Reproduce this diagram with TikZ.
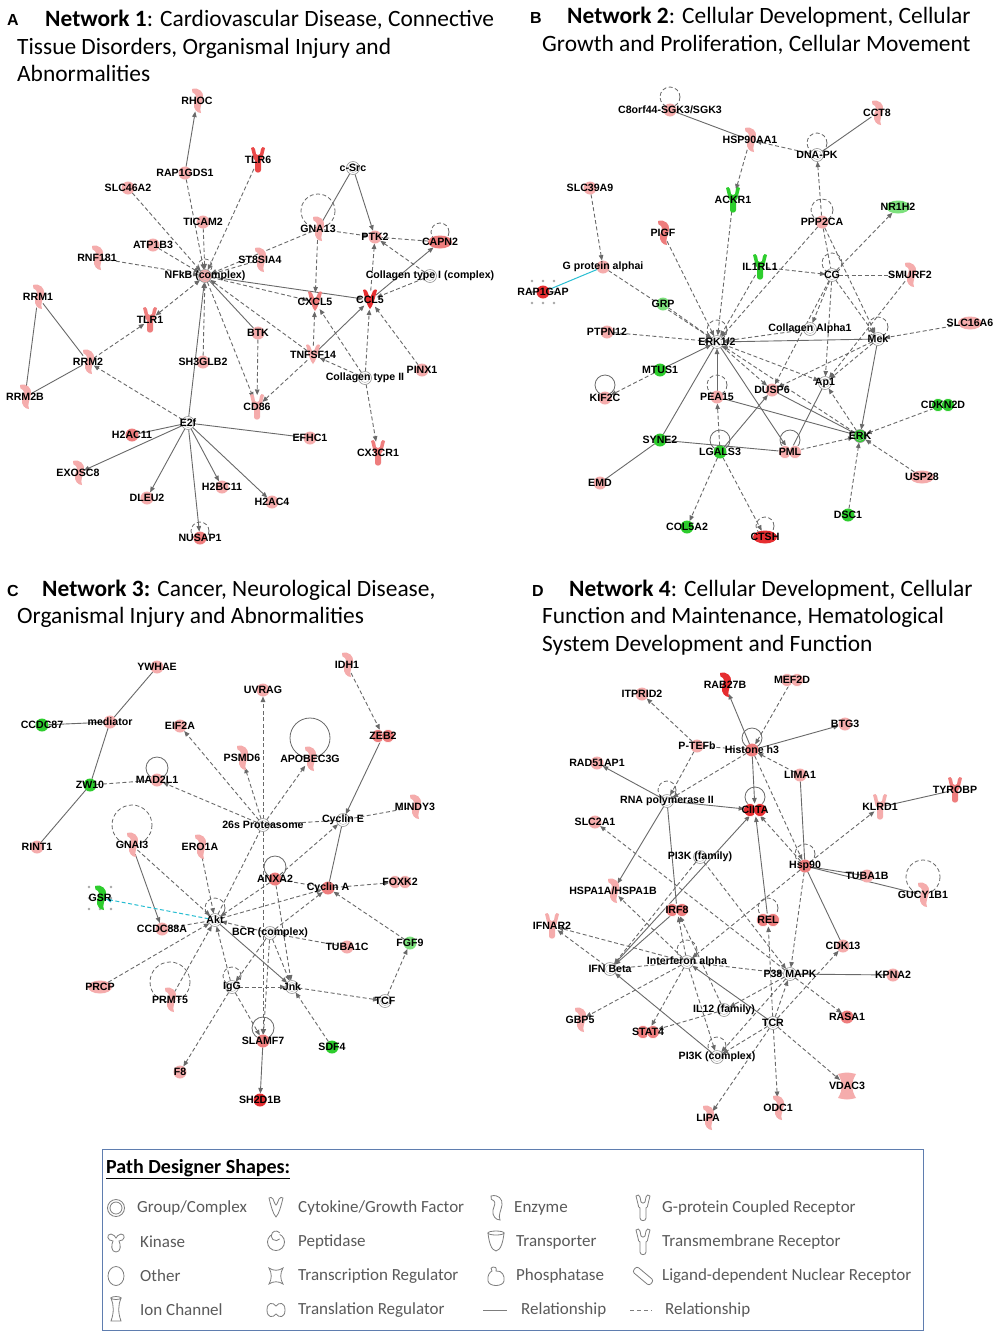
\documentclass[tikz,border=0pt]{standalone}
\usepackage{fontspec}
\setmainfont{Carlito}
\newfontfamily\lblf{Liberation Sans}
\usetikzlibrary{arrows.meta,shapes.geometric}
\definecolor{pk}{RGB}{245,172,172}
\definecolor{pk2}{RGB}{238,125,125}
\definecolor{rd}{RGB}{230,45,48}
\definecolor{rdk}{RGB}{234,72,72}
\definecolor{gr}{RGB}{45,205,45}
\definecolor{lgr}{RGB}{125,225,125}
\definecolor{wh}{RGB}{255,255,255}
\definecolor{edgec}{RGB}{105,105,105}
\definecolor{cplxc}{RGB}{150,150,150}
\definecolor{cyanc}{RGB}{40,190,210}
\definecolor{legc}{RGB}{125,125,125}
\definecolor{legt}{RGB}{90,90,90}
\definecolor{boxc}{RGB}{95,125,175}
\pgfdeclarelayer{bg}
\pgfdeclarelayer{edges}
\pgfsetlayers{bg,edges,main}
\tikzset{
 pics/oth/.style={code={\path[#1] (0,0) circle (6.5);}},
 pics/cplx/.style={code={\path[#1,draw=cplxc,line width=0.6pt] (0,0) circle (6.5);
   \draw[cplxc!70,line width=0.4pt] (0,0) circle (4.6);}},
 pics/enz/.style={code={\path[#1] (-5,-12) .. controls (2,-14) and (7,-9) .. (6,-3)
   .. controls (5,3) and (2,7) .. (4,12) .. controls (0,12) and (-4,8) .. (-3,2)
   .. controls (-2,-2) and (0,-5) .. (-2,-7) .. controls (-4,-8) and (-6,-9) .. (-5,-12) -- cycle;}},
 pics/rec/.style={code={\path[#1] (-7,-12) .. controls (-4.5,-13.5) .. (-3,-11) -- (-2,-6)
   .. controls (0,-4.5) .. (2,-6) -- (3,-11) .. controls (4.5,-13.5) .. (7,-12)
   -- (5,-4) .. controls (4.5,-1) .. (3,0) -- (3,10) .. controls (3,13.5) and (-3,13.5) .. (-3,10)
   -- (-3,0) .. controls (-4.5,-1) .. (-5,-4) -- cycle;}},
 pics/tr/.style={code={\path[#1,draw=white,line width=0.6pt] (-5,0) circle (6.5);
   \path[#1,draw=white,line width=0.6pt] (5,0) circle (6.5);}},
 pics/pep/.style={code={\path[#1] (0,0) ellipse (12 and 6.5);}},
 pics/cyt/.style={code={\path[#1] (-7,-10) .. controls (-5,-11) .. (-3,-9) .. controls (-1,-4) .. (0,-3)
   .. controls (1,-4) .. (3,-9) .. controls (5,-11) .. (7,-10) .. controls (5,-2) and (3,6) .. (0,9)
   .. controls (-3,6) and (-5,-2) .. (-7,-10) -- cycle;}},
 pics/ion/.style={code={\path[#1] (-9,-12) .. controls (0,-14) .. (9,-12) .. controls (4,-4) and (4,4) .. (9,12)
   .. controls (0,14) .. (-9,12) .. controls (-4,4) and (-4,-4) .. (-9,-12) -- cycle;}},
 anch/.style={inner sep=0pt,outer sep=0pt},
 aoth/.style={circle,minimum size=13pt},
 acplx/.style={circle,minimum size=13pt},
 aenz/.style={ellipse,minimum width=12pt,minimum height=22pt},
 arec/.style={ellipse,minimum width=12pt,minimum height=24pt},
 atr/.style={ellipse,minimum width=22pt,minimum height=13pt},
 apep/.style={ellipse,minimum width=24pt,minimum height=13pt},
 acyt/.style={ellipse,minimum width=14pt,minimum height=19pt},
 aion/.style={ellipse,minimum width=16pt,minimum height=26pt},
 lab/.style={font={\lblf\bfseries\fontsize{10.6}{12}\selectfont},text=black,inner sep=0pt},
 es/.style={draw=edgec,line width=0.9pt},
 esa/.style={es,-{Triangle[length=5.5pt,width=4.5pt]}},
 ed/.style={es,dash pattern=on 4pt off 2.5pt},
 eda/.style={ed,-{Triangle[length=5.5pt,width=4.5pt]}},
 edb/.style={ed,{Triangle[length=5.5pt,width=4.5pt]}-{Triangle[length=5.5pt,width=4.5pt]}},
 lps/.style={draw=edgec,line width=0.8pt},
 lpd/.style={lps,dash pattern=on 4pt off 2.5pt},
 cy/.style={draw=cyanc,line width=1pt},
 ttl/.style={font=\fontsize{23.4}{27}\selectfont,inner sep=0pt,anchor=base west},
 pl/.style={font={\lblf\bfseries\fontsize{16}{18}\selectfont},inner sep=0pt,anchor=base west},
 legi/.style={draw=legc,line width=0.8pt,fill=white},
 legtx/.style={font=\fontsize{17}{19}\selectfont,text=legt,inner sep=0pt,anchor=west},
}
\newcommand\GN[6]{\pic at (#2,#3) {#4={fill=#5}};\node[anch,a#4,label={[lab]center:#6}] (#1) at (#2,#3) {};}
\newcommand\LP[4]{\draw[#4] (#1) ++(0,-#2) circle (#3);}
\begin{document}
\begin{tikzpicture}[x=1pt,y=-1pt]
\begin{pgfonlayer}{bg}
\fill[white] (0,0) rectangle (1001,1339);
\end{pgfonlayer}
\useasboundingbox (0,0) rectangle (1001,1339);
% ---------------- titles
\node[pl] (la) at (7,25) {A};
\node[ttl] (ta1) at (45,26) {\textbf{Network 1}: Cardiovascular Disease, Connective};
\node[ttl] (ta2) at (17,54) {Tissue Disorders, Organismal Injury and};
\node[ttl] (ta3) at (17,81) {Abnormalities};
\node[pl] (lb) at (530,23) {B};
\node[ttl] (tb1) at (567,23) {\textbf{Network 2}: Cellular Development, Cellular};
\node[ttl] (tb2) at (542,51) {Growth and Proliferation, Cellular Movement};
\node[pl] (lc) at (7,596) {C};
\node[ttl] (tc1) at (42,596) {\textbf{Network 3:} Cancer, Neurological Disease,};
\node[ttl] (tc2) at (17,623) {Organismal Injury and Abnormalities};
\node[pl] (ld) at (532,596) {D};
\node[ttl] (td1) at (569,596) {\textbf{Network 4}: Cellular Development, Cellular};
\node[ttl] (td2) at (542,623) {Function and Maintenance, Hematological};
\node[ttl] (td3) at (542,651) {System Development and Function};
% ---------------- Network 1
\GN{rhoc}{197}{101}{enz}{pk}{RHOC}
\GN{tlr6}{258}{160}{rec}{rdk}{TLR6}
\GN{rap1gds1}{185}{173}{oth}{pk}{RAP1GDS1}
\GN{slc46a2}{128}{188}{oth}{pk}{SLC46A2}
\GN{ticam2}{203}{222}{oth}{pk}{TICAM2}
\GN{atp1b3}{153}{245}{oth}{pk}{ATP1B3}
\GN{rnf181}{97}{258}{enz}{pk}{RNF181}
\GN{st8sia4}{260}{260}{enz}{pk}{ST8SIA4}
\GN{nfkb}{205}{276}{cplx}{pk}{NFkB (complex)}
\GN{csrc}{353}{168}{cplx}{wh}{c-Src}
\GN{gna13}{318}{229}{enz}{pk}{GNA13}
\GN{ptk2}{375}{237}{oth}{pk}{PTK2}
\GN{capn2}{440}{242}{pep}{pk2}{CAPN2}
\GN{col1}{430}{276}{cplx}{wh}{Collagen type I (complex)}
\GN{rrm1}{38}{297}{enz}{pk}{RRM1}
\GN{tlr1}{150}{320}{rec}{pk2}{TLR1}
\GN{rrm2}{88}{362}{enz}{pk}{RRM2}
\GN{rrm2b}{25}{397}{enz}{pk}{RRM2B}
\GN{sh3glb2}{203}{362}{oth}{pk}{SH3GLB2}
\GN{btk}{258}{333}{oth}{pk}{BTK}
\GN{cd86}{257}{407}{rec}{pk}{CD86}
\GN{cxcl5}{315}{302}{cyt}{pk2}{CXCL5}
\GN{ccl5}{370}{300}{cyt}{rd}{CCL5}
\GN{tnfsf14}{313}{355}{cyt}{pk}{TNFSF14}
\GN{col2}{365}{378}{cplx}{wh}{Collagen type II}
\GN{pinx1}{422}{370}{oth}{pk}{PINX1}
\GN{cx3cr1}{378}{453}{rec}{pk2}{CX3CR1}
\GN{e2f}{188}{423}{cplx}{wh}{E2f}
\GN{h2ac11}{132}{435}{oth}{pk2}{H2AC11}
\GN{efhc1}{310}{438}{oth}{pk}{EFHC1}
\GN{exosc8}{78}{473}{enz}{pk}{EXOSC8}
\GN{dleu2}{147}{498}{oth}{pk}{DLEU2}
\GN{h2bc11}{222}{487}{oth}{pk}{H2BC11}
\GN{h2ac4}{272}{502}{oth}{pk}{H2AC4}
\GN{nusap1}{200}{538}{oth}{pk2}{NUSAP1}
% ---------------- Network 2
\foreach \dx/\dy in {-11/-11,0/-11,11/-11,-11/0,11/0,-11/11,0/11,11/11}
  \fill[gray!70] (543+\dx,292+\dy) circle (1.3);
\GN{c8orf}{670}{110}{oth}{pk}{C8orf44-SGK3/SGK3}
\GN{hsp90aa1}{750}{140}{enz}{pk}{HSP90AA1}
\GN{cct8}{877}{113}{enz}{pk}{CCT8}
\GN{dnapk}{817}{155}{cplx}{wh}{DNA-PK}
\GN{slc39a9}{590}{188}{oth}{pk}{SLC39A9}
\GN{ackr1}{733}{200}{rec}{gr}{ACKR1}
\GN{nr1h2}{898}{207}{pep}{lgr}{NR1H2}
\GN{ppp2ca}{822}{222}{oth}{pk}{PPP2CA}
\GN{pigf}{663}{233}{enz}{pk2}{PIGF}
\GN{gpa}{603}{267}{oth}{pk}{G protein alphai}
\GN{il1rl1}{760}{267}{rec}{gr}{IL1RL1}
\GN{cg}{832}{275}{cplx}{wh}{CG}
\GN{smurf2}{910}{275}{enz}{pk}{SMURF2}
\GN{rap1gap}{543}{292}{oth}{rd}{RAP1GAP}
\GN{grp}{663}{304}{oth}{lgr}{GRP}
\GN{ptpn12}{607}{332}{oth}{pk}{PTPN12}
\GN{erk12}{717}{342}{cplx}{wh}{ERK1/2}
\GN{cola1}{810}{329}{cplx}{wh}{Collagen Alpha1}
\GN{mek}{878}{339}{cplx}{wh}{Mek}
\GN{slc16a6}{970}{323}{pep}{pk}{SLC16A6}
\GN{mtus1}{660}{370}{oth}{gr}{MTUS1}
\GN{kif2c}{605}{398}{oth}{pk}{KIF2C}
\GN{pea15}{717}{397}{oth}{pk}{PEA15}
\GN{dusp6}{772}{390}{oth}{pk}{DUSP6}
\GN{ap1}{825}{383}{cplx}{wh}{Ap1}
\GN{cdkn2d}{943}{405}{tr}{gr}{CDKN2D}
\GN{erk}{860}{436}{cplx}{gr}{ERK}
\GN{syne2}{660}{440}{oth}{gr}{SYNE2}
\GN{lgals3}{720}{452}{oth}{gr}{LGALS3}
\GN{pml}{790}{452}{tr}{pk}{PML}
\GN{usp28}{922}{477}{pep}{pk}{USP28}
\GN{emd}{600}{483}{oth}{pk}{EMD}
\GN{dsc1}{848}{515}{oth}{gr}{DSC1}
\GN{col5a2}{687}{527}{oth}{gr}{COL5A2}
\GN{ctsh}{765}{537}{pep}{rd}{CTSH}
% ---------------- Network 3
\foreach \dx/\dy in {-11/-11,0/-11,11/-11,-11/0,11/0,-11/11,0/11,11/11}
  \fill[gray!70] (100+\dx,898+\dy) circle (1.3);
\GN{ywhae}{157}{667}{oth}{pk}{YWHAE}
\GN{idh1}{347}{665}{enz}{pk}{IDH1}
\GN{uvrag}{263}{690}{oth}{pk}{UVRAG}
\GN{ccdc87}{42}{725}{oth}{gr}{CCDC87}
\GN{mediator}{110}{722}{oth}{pk}{mediator}
\GN{eif2a}{180}{726}{oth}{pk}{EIF2A}
\GN{zeb2}{383}{736}{tr}{pk2}{ZEB2}
\GN{psmd6}{242}{758}{enz}{pk}{PSMD6}
\GN{apobec}{310}{759}{enz}{pk}{APOBEC3G}
\GN{zw10}{90}{785}{oth}{gr}{ZW10}
\GN{mad2l1}{157}{780}{oth}{pk}{MAD2L1}
\GN{mindy3}{415}{807}{enz}{pk}{MINDY3}
\GN{prot}{263}{825}{cplx}{wh}{26s Proteasome}
\GN{cyce}{343}{820}{cplx}{wh}{Cyclin E}
\GN{rint1}{37}{847}{oth}{pk}{RINT1}
\GN{gnai3}{132}{845}{enz}{pk}{GNAI3}
\GN{ero1a}{200}{847}{enz}{pk}{ERO1A}
\GN{anxa2}{275}{879}{oth}{pk2}{ANXA2}
\GN{cyca}{328}{888}{oth}{pk2}{Cyclin A}
\GN{foxk2}{400}{882}{tr}{pk}{FOXK2}
\GN{gsr}{100}{898}{enz}{gr}{GSR}
\GN{akt}{215}{920}{cplx}{wh}{Akt}
\GN{ccdc88a}{162}{929}{oth}{pk}{CCDC88A}
\GN{bcr}{270}{933}{cplx}{wh}{BCR (complex)}
\GN{tuba1c}{347}{947}{oth}{pk}{TUBA1C}
\GN{fgf9}{410}{943}{oth}{lgr}{FGF9}
\GN{prcp}{100}{987}{pep}{pk}{PRCP}
\GN{prmt5}{170}{1000}{enz}{pk}{PRMT5}
\GN{igg}{232}{987}{cplx}{wh}{IgG}
\GN{jnk}{292}{987}{cplx}{wh}{Jnk}
\GN{tcf}{385}{1001}{cplx}{wh}{TCF}
\GN{slamf7}{263}{1041}{oth}{pk2}{SLAMF7}
\GN{sdf4}{332}{1047}{oth}{gr}{SDF4}
\GN{f8}{180}{1072}{oth}{pk}{F8}
\GN{sh2d1b}{260}{1100}{oth}{rd}{SH2D1B}
% ---------------- Network 4
\GN{itprid2}{642}{694}{oth}{pk}{ITPRID2}
\GN{rab27b}{725}{685}{enz}{rd}{RAB27B}
\GN{mef2d}{792}{680}{tr}{pk}{MEF2D}
\GN{btg3}{845}{724}{oth}{pk}{BTG3}
\GN{ptefb}{697}{746}{oth}{pk}{P-TEFb}
\GN{h3}{752}{750}{oth}{pk2}{Histone h3}
\GN{rad51ap1}{597}{763}{oth}{pk}{RAD51AP1}
\GN{lima1}{800}{775}{oth}{pk}{LIMA1}
\GN{rnapol}{667}{801}{cplx}{wh}{RNA polymerase II}
\GN{ciita}{755}{810}{tr}{rd}{CIITA}
\GN{klrd1}{880}{807}{rec}{pk}{KLRD1}
\GN{tyrobp}{955}{790}{rec}{pk2}{TYROBP}
\GN{slc2a1}{595}{822}{oth}{pk}{SLC2A1}
\GN{pi3kf}{700}{857}{cplx}{wh}{PI3K (family)}
\GN{hsp90}{805}{866}{oth}{pk2}{Hsp90}
\GN{tuba1b}{867}{876}{oth}{pk}{TUBA1B}
\GN{gucy1b1}{923}{895}{enz}{pk}{GUCY1B1}
\GN{hspa1a}{613}{891}{enz}{pk}{HSPA1A/HSPA1B}
\GN{irf8}{677}{910}{tr}{pk2}{IRF8}
\GN{rel}{768}{920}{tr}{pk2}{REL}
\GN{ifnar2}{552}{926}{rec}{pk}{IFNAR2}
\GN{cdk13}{843}{946}{oth}{pk}{CDK13}
\GN{ifnb}{610}{969}{cplx}{wh}{IFN Beta}
\GN{ifna}{687}{962}{cplx}{wh}{Interferon alpha}
\GN{p38}{790}{974}{cplx}{wh}{P38 MAPK}
\GN{kpna2}{893}{975}{oth}{pk}{KPNA2}
\GN{il12}{724}{1010}{cplx}{wh}{IL12 (family)}
\GN{tcr}{773}{1023}{cplx}{wh}{TCR}
\GN{rasa1}{847}{1017}{oth}{pk2}{RASA1}
\GN{gbp5}{580}{1020}{enz}{pk}{GBP5}
\GN{stat4}{648}{1032}{tr}{pk2}{STAT4}
\GN{pi3kc}{717}{1057}{cplx}{wh}{PI3K (complex)}
\GN{vdac3}{847}{1086}{ion}{pk}{VDAC3}
\GN{odc1}{778}{1108}{enz}{pk}{ODC1}
\GN{lipa}{708}{1118}{enz}{pk}{LIPA}
% ---------------- edges
\begin{pgfonlayer}{edges}
% N1
\draw[esa] (rap1gds1) -- (rhoc);
\foreach \s in {rap1gds1,tlr6,slc46a2,ticam2,atp1b3,rnf181,st8sia4,gna13,sh3glb2,tnfsf14}
  \draw[eda] (\s) -- (nfkb);
\draw[edb] (tlr1) -- (nfkb);
\draw[esa] (nfkb) -- (ccl5);
\draw[eda] (nfkb) -- (cxcl5);
\draw[eda] (gna13) -- (cxcl5);
\draw[eda] (gna13) -- (ptk2);
\draw[es] (csrc) -- (gna13);
\draw[esa] (csrc) -- (ptk2);
\draw[ed] (capn2) -- (ptk2);
\draw[eda] (col1) -- (ptk2);
\draw[eda] (col1) -- (ccl5);
\draw[esa] (ccl5) -- (capn2);
\draw[eda] (ccl5) -- (ptk2);
\draw[eda] (tnfsf14) -- (cxcl5);
\draw[esa] (tnfsf14) -- (ccl5);
\draw[eda] (tnfsf14) -- (cd86);
\draw[es] (nfkb) -- (btk);
\draw[eda] (nfkb) -- (cd86);
\draw[eda] (btk) -- (cd86);
\draw[eda] (col2) -- (tnfsf14);
\draw[eda] (col2) -- (cxcl5);
\draw[eda] (col2) -- (ccl5);
\draw[eda] (col2) -- (cx3cr1);
\draw[eda] (pinx1) -- (ccl5);
\draw[eda] (rrm2) -- (tlr1);
\draw[es] (rrm1) -- (rrm2);
\draw[es] (rrm1) -- (rrm2b);
\draw[es] (rrm2) -- (rrm2b);
\draw[eda] (e2f) -- (rrm2);
\draw[esa] (e2f) -- (nfkb);
\draw[es] (e2f) -- (h2ac11);
\draw[es] (e2f) -- (efhc1);
\foreach \t in {exosc8,dleu2,nusap1,h2bc11,h2ac4}
  \draw[esa] (e2f) -- (\t);
\LP{nfkb}{10}{7}{lpd}
\LP{gna13}{18}{17}{lpd}
\LP{capn2}{10}{9}{lpd}
\LP{nusap1}{7}{9}{lpd}
% N2
\draw[es] (c8orf) -- (hsp90aa1);
\draw[eda] (dnapk) -- (hsp90aa1);
\draw[es] (cct8) -- (dnapk);
\draw[eda] (hsp90aa1) -- (ackr1);
\draw[eda] (ackr1) -- (erk12);
\draw[eda] (ppp2ca) -- (dnapk);
\draw[ed] (ppp2ca) -- (cg);
\draw[eda] (ppp2ca) -- (erk12);
\draw[eda] (ppp2ca) -- (mek);
\draw[eda] (cg) -- (nr1h2);
\draw[eda] (il1rl1) -- (cg);
\draw[ed] (cg) -- (smurf2);
\draw[eda] (slc39a9) -- (gpa);
\draw[cy] (gpa) -- (rap1gap);
\foreach \s in {gpa,pigf,grp,ptpn12,il1rl1,cola1}
  \draw[eda] (\s) -- (erk12);
\draw[esa] (mtus1) -- (erk12);
\draw[eda] (mtus1) -- (kif2c);
\draw[esa] (mek) -- (erk12);
\draw[eda] (slc16a6) -- (mek);
\draw[eda] (mek) -- (ap1);
\draw[eda] (mek) -- (dusp6);
\draw[esa] (mek) -- (erk);
\draw[eda] (cg) -- (mek);
\draw[eda] (cg) -- (cola1);
\draw[eda] (cg) -- (ap1);
\draw[eda] (cg) -- (dusp6);
\draw[eda] (smurf2) -- (ap1);
\draw[esa] (pea15) -- (erk12);
\draw[eda] (lgals3) -- (pea15);
\draw[esa] (erk12) -- (pml);
\draw[eda] (erk12) -- (ap1);
\draw[eda] (erk12) -- (dusp6);
\draw[eda] (erk) -- (erk12);
\draw[es] (pea15) -- (erk);
\draw[es] (dusp6) -- (erk);
\draw[eda] (erk) -- (ap1);
\draw[es] (pml) -- (ap1);
\draw[eda] (pml) -- (erk);
\draw[es] (syne2) -- (pml);
\draw[es] (syne2) -- (erk12);
\draw[es] (syne2) -- (emd);
\draw[eda] (lgals3) -- (col5a2);
\draw[eda] (lgals3) -- (ctsh);
\draw[esa] (lgals3) -- (dusp6);
\draw[eda] (cdkn2d) -- (erk);
\draw[eda] (usp28) -- (erk);
\draw[eda] (dsc1) -- (erk);
\LP{c8orf}{13}{10}{lpd}
\LP{dnapk}{12}{10}{lpd}
\LP{ppp2ca}{12}{11}{lpd}
\LP{cg}{12}{10}{lpd}
\LP{erk12}{12}{10}{lpd}
\LP{mek}{12}{10}{lpd}
\LP{kif2c}{13}{10}{lps}
\LP{pea15}{12}{10}{lpd}
\LP{lgals3}{12}{10}{lps}
\LP{pml}{12}{10}{lps}
\LP{ctsh}{11}{9}{lpd}
% N3
\draw[es] (ywhae) -- (mediator);
\draw[es] (ccdc87) -- (mediator);
\draw[es] (mediator) -- (zw10);
\draw[es] (zw10) -- (rint1);
\draw[ed] (zw10) -- (mad2l1);
\draw[eda] (idh1) -- (zeb2);
\draw[esa] (zeb2) -- (cyce);
\draw[ed] (mindy3) -- (cyce);
\foreach \t in {uvrag,eif2a,psmd6,apobec,mad2l1}
  \draw[eda] (prot) -- (\t);
\draw[ed] (prot) -- (cyce);
\draw[es] (cyce) -- (cyca);
\draw[ed] (akt) -- (prot);
\draw[eda] (anxa2) -- (cyce);
\draw[eda] (gnai3) -- (akt);
\draw[esa] (gnai3) -- (ccdc88a);
\draw[eda] (ero1a) -- (akt);
\draw[cy,dash pattern=on 4pt off 2.5pt,-{Triangle[length=5.5pt,width=4.5pt]}] (akt) -- (gsr);
\draw[ed] (ccdc88a) -- (akt);
\draw[eda] (prcp) -- (akt);
\draw[eda] (prmt5) -- (akt);
\draw[eda] (igg) -- (akt);
\draw[eda] (anxa2) -- (akt);
\draw[ed] (anxa2) -- (cyca);
\draw[eda] (akt) -- (cyca);
\draw[eda] (cyca) -- (foxk2);
\draw[eda] (fgf9) -- (cyca);
\foreach \t in {akt,igg,jnk,slamf7,cyca}
  \draw[eda] (bcr) -- (\t);
\draw[ed] (bcr) -- (tuba1c);
\draw[esa] (akt) -- (jnk);
\draw[eda] (igg) -- (jnk);
\draw[eda] (igg) -- (f8);
\draw[eda] (igg) -- (slamf7);
\draw[eda] (jnk) -- (tcf);
\draw[eda] (tcf) -- (fgf9);
\draw[eda] (sdf4) -- (jnk);
\draw[eda] (anxa2) -- (jnk);
\draw[esa] (slamf7) -- (sh2d1b);
\draw[eda] (prot) -- (slamf7);
\LP{apobec}{21}{20}{lps}
\LP{mad2l1}{12}{11}{lps}
\LP{gnai3}{20}{20}{lpd}
\LP{anxa2}{12}{11}{lps}
\LP{akt}{12}{10}{lpd}
\LP{igg}{11}{9}{lpd}
\LP{prmt5}{18}{20}{lpd}
\LP{slamf7}{13}{11}{lps}
% N4
\draw[eda] (ptefb) -- (itprid2);
\draw[esa] (h3) -- (rab27b);
\draw[eda] (mef2d) -- (h3);
\draw[esa] (h3) -- (btg3);
\draw[ed] (ptefb) -- (h3);
\draw[eda] (lima1) -- (h3);
\draw[eda] (ptefb) -- (rnapol);
\draw[eda] (h3) -- (rnapol);
\draw[esa] (rnapol) -- (rad51ap1);
\draw[esa] (rnapol) -- (ciita);
\draw[esa] (h3) -- (ciita);
\draw[eda] (p38) -- (slc2a1);
\draw[eda] (hsp90) -- (ciita);
\draw[es] (lima1) -- (hsp90);
\draw[eda] (hsp90) -- (klrd1);
\draw[es] (klrd1) -- (tyrobp);
\draw[es] (hsp90) -- (tuba1b);
\draw[es] (hsp90) -- (gucy1b1);
\draw[es] (hsp90) -- (cdk13);
\draw[eda] (hsp90) -- (p38);
\draw[eda] (hsp90) -- (ifna);
\draw[eda] (h3) -- (hsp90);
\draw[esa] (rel) -- (ciita);
\draw[es] (rnapol) -- (irf8);
\draw[esa] (ifnb) -- (ciita);
\draw[esa] (irf8) -- (ifnb);
\draw[eda] (pi3kf) -- (ifnb);
\draw[eda] (pi3kf) -- (p38);
\draw[esa] (rnapol) -- (hspa1a);
\draw[eda] (ifna) -- (hspa1a);
\draw[eda] (ifna) -- (ifnar2);
\draw[eda] (ifnb) -- (ifnar2);
\draw[ed] (ifna) -- (ifnb);
\draw[eda] (ifna) -- (irf8);
\draw[eda] (ifna) -- (gbp5);
\draw[eda] (ifna) -- (stat4);
\draw[eda] (ifna) -- (p38);
\draw[eda] (ifna) -- (pi3kc);
\draw[esa] (tcr) -- (ifna);
\draw[esa] (pi3kc) -- (ifnb);
\draw[eda] (il12) -- (irf8);
\draw[eda] (p38) -- (il12);
\draw[eda] (il12) -- (stat4);
\foreach \t in {pi3kc,p38,rel,cdk13,odc1,lipa,vdac3}
  \draw[eda] (tcr) -- (\t);
\draw[es] (p38) -- (kpna2);
\draw[eda] (p38) -- (rasa1);
\draw[eda] (p38) -- (pi3kc);
\LP{h3}{12}{10}{lps}
\LP{rnapol}{11}{9}{lpd}
\LP{ciita}{13}{10}{lps}
\LP{hsp90}{12}{10}{lpd}
\LP{gucy1b1}{18}{17}{lpd}
\LP{rel}{12}{10}{lpd}
\LP{ifna}{12}{10}{lpd}
\LP{pi3kc}{11}{9}{lpd}
\end{pgfonlayer}
% ---------------- legend
\node[draw=boxc,line width=1.2pt,minimum width=821pt,minimum height=181pt,anchor=north west,inner sep=0pt] (legbox) at (102,1149) {};
\node[font=\bfseries\fontsize{20}{22}\selectfont,inner sep=0pt,anchor=base west] (legtitle) at (106,1173) {\underline{Path Designer Shapes:}};
% icons
\draw[legi] (116,1208) circle (8.5); \draw[legi] (116,1208) circle (6);
\pic at (276,1208) {cyt={legi}};
\pic at (496,1208) {enz={legi}};
\pic at (643,1208) {rec={legi}};
\begin{scope}[shift={(116,1243)}]
\draw[legi] (-3,-2) .. controls (-9,-2) and (-10,-9) .. (-5,-9) .. controls (-2,-9) and (-1,-6) .. (0,-5)
  .. controls (1,-6) and (2,-9) .. (5,-9) .. controls (10,-9) and (9,-2) .. (3,-2)
  .. controls (5,2) and (5,9) .. (0,9) .. controls (-5,9) and (-5,2) .. (-3,-2) -- cycle;
\end{scope}
\draw[legi] (276,1242) circle (8.5); \draw[legi] (279.7,1238.9) arc (40:320:4.8);
\draw[legi] (488,1233) -- (504,1233) .. controls (503,1242) and (501,1250) .. (496,1251) .. controls (491,1250) and (489,1242) .. (488,1233) -- cycle;
\draw[legi] (496,1233) ellipse (8 and 2);
\pic at (643,1242) {rec={legi}};
\draw[legi] (116,1276) ellipse (8 and 9.5);
\draw[legi] (269,1268) .. controls (273,1271) and (279,1271) .. (283,1268) .. controls (280,1273) and (280,1279) .. (283,1284)
  .. controls (279,1281) and (273,1281) .. (269,1284) .. controls (272,1279) and (272,1273) .. (269,1268) -- cycle;
\draw[legi] (493,1267) .. controls (495,1266) and (497,1268) .. (496,1271) .. controls (502,1270) and (505,1276) .. (504,1281)
  .. controls (503,1287) and (489,1287) .. (488,1281) .. controls (487,1275) and (490,1272) .. (492,1271)
  .. controls (490,1269) and (491,1267) .. (493,1267) -- cycle;
\draw[legi,rotate around={-40:(643,1276)},rounded corners=2.5pt] (632,1272.5) rectangle (654,1279.5);
\draw[legi] (111,1298) -- (121,1298) .. controls (118,1305) and (118,1313) .. (121,1321) -- (111,1321) .. controls (114,1313) and (114,1305) .. (111,1298) -- cycle;
\draw[legi] (116,1298) ellipse (5 and 1.5);
\draw[legi] (267,1310) .. controls (267,1302) and (273,1302) .. (276,1306) .. controls (279,1302) and (285,1302) .. (285,1310)
  .. controls (285,1318) and (279,1318) .. (276,1314) .. controls (273,1318) and (267,1318) .. (267,1310) -- cycle;
\draw[legc,line width=1pt] (483,1310) -- (507,1310);
\draw[legc,line width=1pt,dash pattern=on 4pt off 3pt] (630,1310) -- (652,1310);
% texts
\node[legtx] (l1) at (137,1208) {Group/Complex};
\node[legtx] (l2) at (298,1208) {Cytokine/Growth Factor};
\node[legtx] (l3) at (514,1208) {Enzyme};
\node[legtx] (l4) at (662,1208) {G-protein Coupled Receptor};
\node[legtx] (l5) at (140,1242) {Kinase};
\node[legtx] (l6) at (298,1242) {Peptidase};
\node[legtx] (l7) at (516,1242) {Transporter};
\node[legtx] (l8) at (662,1242) {Transmembrane Receptor};
\node[legtx] (l9) at (140,1276) {Other};
\node[legtx] (l10) at (298,1276) {Transcription Regulator};
\node[legtx] (l11) at (516,1276) {Phosphatase};
\node[legtx] (l12) at (662,1276) {Ligand-dependent Nuclear Receptor};
\node[legtx] (l13) at (140,1310) {Ion Channel};
\node[legtx] (l14) at (298,1310) {Translation Regulator};
\node[legtx] (l15) at (521,1310) {Relationship};
\node[legtx] (l16) at (665,1310) {Relationship};
\end{tikzpicture}
\end{document}
